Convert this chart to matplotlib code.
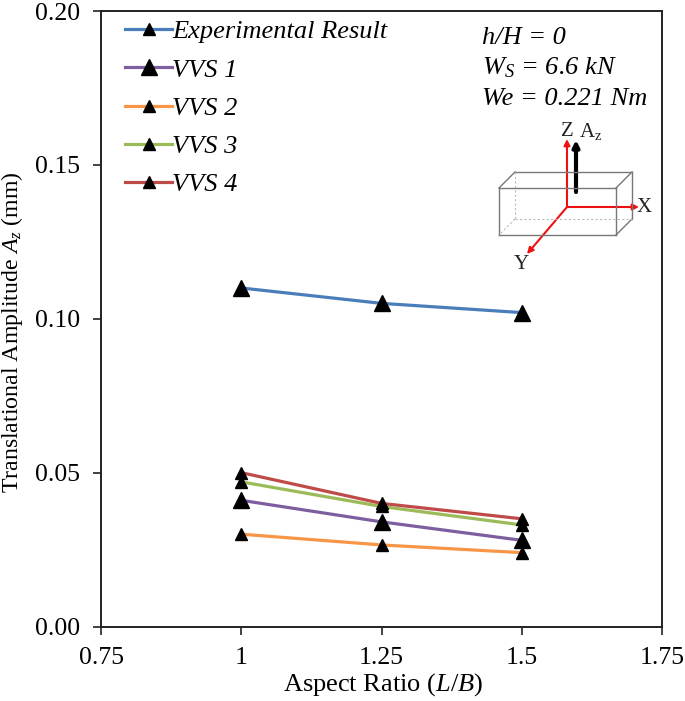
import matplotlib
matplotlib.use("Agg")
import matplotlib.pyplot as plt
from matplotlib.patches import FancyArrowPatch

plt.rcParams["font.family"] = ["Liberation Serif", "DejaVu Serif"]
plt.rcParams["mathtext.fontset"] = "custom"
plt.rcParams["mathtext.rm"] = "Liberation Serif"
plt.rcParams["mathtext.it"] = "Liberation Serif:italic"

W, H = 685, 701

aspect_ratio = [1, 1.25, 1.5]
experimental = [0.110, 0.105, 0.102]
vvs1 = [0.041, 0.034, 0.028]
vvs2 = [0.030, 0.0265, 0.024]
vvs3 = [0.047, 0.039, 0.033]
vvs4 = [0.050, 0.040, 0.035]

x_ticks = [0.75, 1, 1.25, 1.5, 1.75]
x_tick_labels = ["0.75", "1", "1.25", "1.5", "1.75"]
y_ticks = [0.00, 0.05, 0.10, 0.15, 0.20]

# value, label, colour, marker size in chart, marker size in legend
series = [
    (experimental, "Experimental Result", "#4a7ebb", 12, 9),
    (vvs1, "VVS 1", "#7d5fa0", 12, 12),
    (vvs2, "VVS 2", "#f79646", 9, 9),
    (vvs3, "VVS 3", "#9bbb59", 9, 9),
    (vvs4, "VVS 4", "#be4b48", 9, 9),
]


def px(x, y):
    return x / W, 1 - y / H


fig = plt.figure(figsize=(W / 100, H / 100), dpi=100)
ax = fig.add_axes([101 / W, 1 - 626.5 / H, (662 - 101) / W, (626.5 - 11) / H])

for vals, label, color, ms, _ in series:
    ax.plot(aspect_ratio, vals, color=color, lw=2.3, marker="^", ms=ms,
            mfc="black", mec="black", label=label, clip_on=False)

ax.set_xlim(0.75, 1.75)
ax.set_ylim(0, 0.20)
ax.set_xticks(x_ticks)
ax.set_xticklabels(x_tick_labels)
ax.set_yticks(y_ticks)
ax.set_yticklabels([f"{v:.2f}" for v in y_ticks])
ax.tick_params(labelsize=18.5, length=6, width=1.2, color="#222222")
ax.tick_params(axis="y", pad=9)
ax.tick_params(axis="x", pad=9)
for s in ax.spines.values():
    s.set_linewidth(1.4)
    s.set_color("#222222")

fig.text(*px(383, 685), r"Aspect Ratio ($\mathit{L/B}$)", fontsize=19,
         ha="center", va="center")
fig.text(*px(12, 332), r"Translational Amplitude $\mathit{A_z}$ (mm)", fontsize=17.2,
         rotation=90, ha="center", va="center")

leg = ax.legend(loc="upper left", bbox_to_anchor=(px(117, 0)[0], px(0, 12)[1]),
                bbox_transform=fig.transFigure, frameon=False,
                prop={"style": "italic", "size": 19}, handlelength=1.8,
                handletextpad=0.0, labelspacing=0.56, borderpad=0.3,
                borderaxespad=0)
for handle, item in zip(leg.get_lines(), series):
    handle.set_markersize(item[4])

# condition notes
notes = [(38, "h/H = 0"), (68, r"W$_\mathit{S}$ = 6.6 kN"), (99, "We = 0.221 Nm")]
for y, txt in notes:
    fig.text(*px(482, y), txt, fontsize=19, style="italic", ha="left", va="center")


def seg(x0, y0, x1, y1, **kw):
    xa, ya = px(x0, y0)
    xb, yb = px(x1, y1)
    fig.add_artist(plt.Line2D([xa, xb], [ya, yb], transform=fig.transFigure, **kw))


def arrow(x0, y0, x1, y1, color, lw):
    fig.add_artist(FancyArrowPatch(px(x0, y0), px(x1, y1), transform=fig.transFigure,
                                   arrowstyle="-|>", mutation_scale=9, color=color,
                                   lw=lw, shrinkA=0, shrinkB=0))


# box sketch of the structure
for a in [(499, 188, 616, 188), (616, 188, 616, 235), (616, 235, 499, 235),
          (499, 235, 499, 188), (499, 188, 515, 172), (515, 172, 632, 172),
          (632, 172, 616, 188), (632, 172, 632, 219), (632, 219, 616, 235)]:
    seg(*a, color="#777777", lw=1)
for a in [(515, 172, 515, 219), (515, 219, 632, 219), (515, 219, 499, 235)]:
    seg(*a, color="#bbbbbb", lw=0.8, ls=(0, (2, 2)))

arrow(576, 192, 576, 140, "black", 3)
arrow(567, 207, 567, 139, "#ee1111", 1.5)
arrow(567, 207, 639, 207, "#ee1111", 1.5)
arrow(567, 207, 527, 254, "#ee1111", 1.5)

fig.text(*px(567, 131), "Z", fontsize=15, ha="center", va="center", color="#222222")
fig.text(*px(591, 132), r"A$_\mathrm{z}$", fontsize=15, ha="center", va="center", color="#222222")
fig.text(*px(644, 208), "X", fontsize=15, ha="center", va="center", color="#222222")
fig.text(*px(521, 265), "Y", fontsize=15, ha="center", va="center", color="#222222")

fig.savefig("out.png", dpi=100, facecolor="white")
